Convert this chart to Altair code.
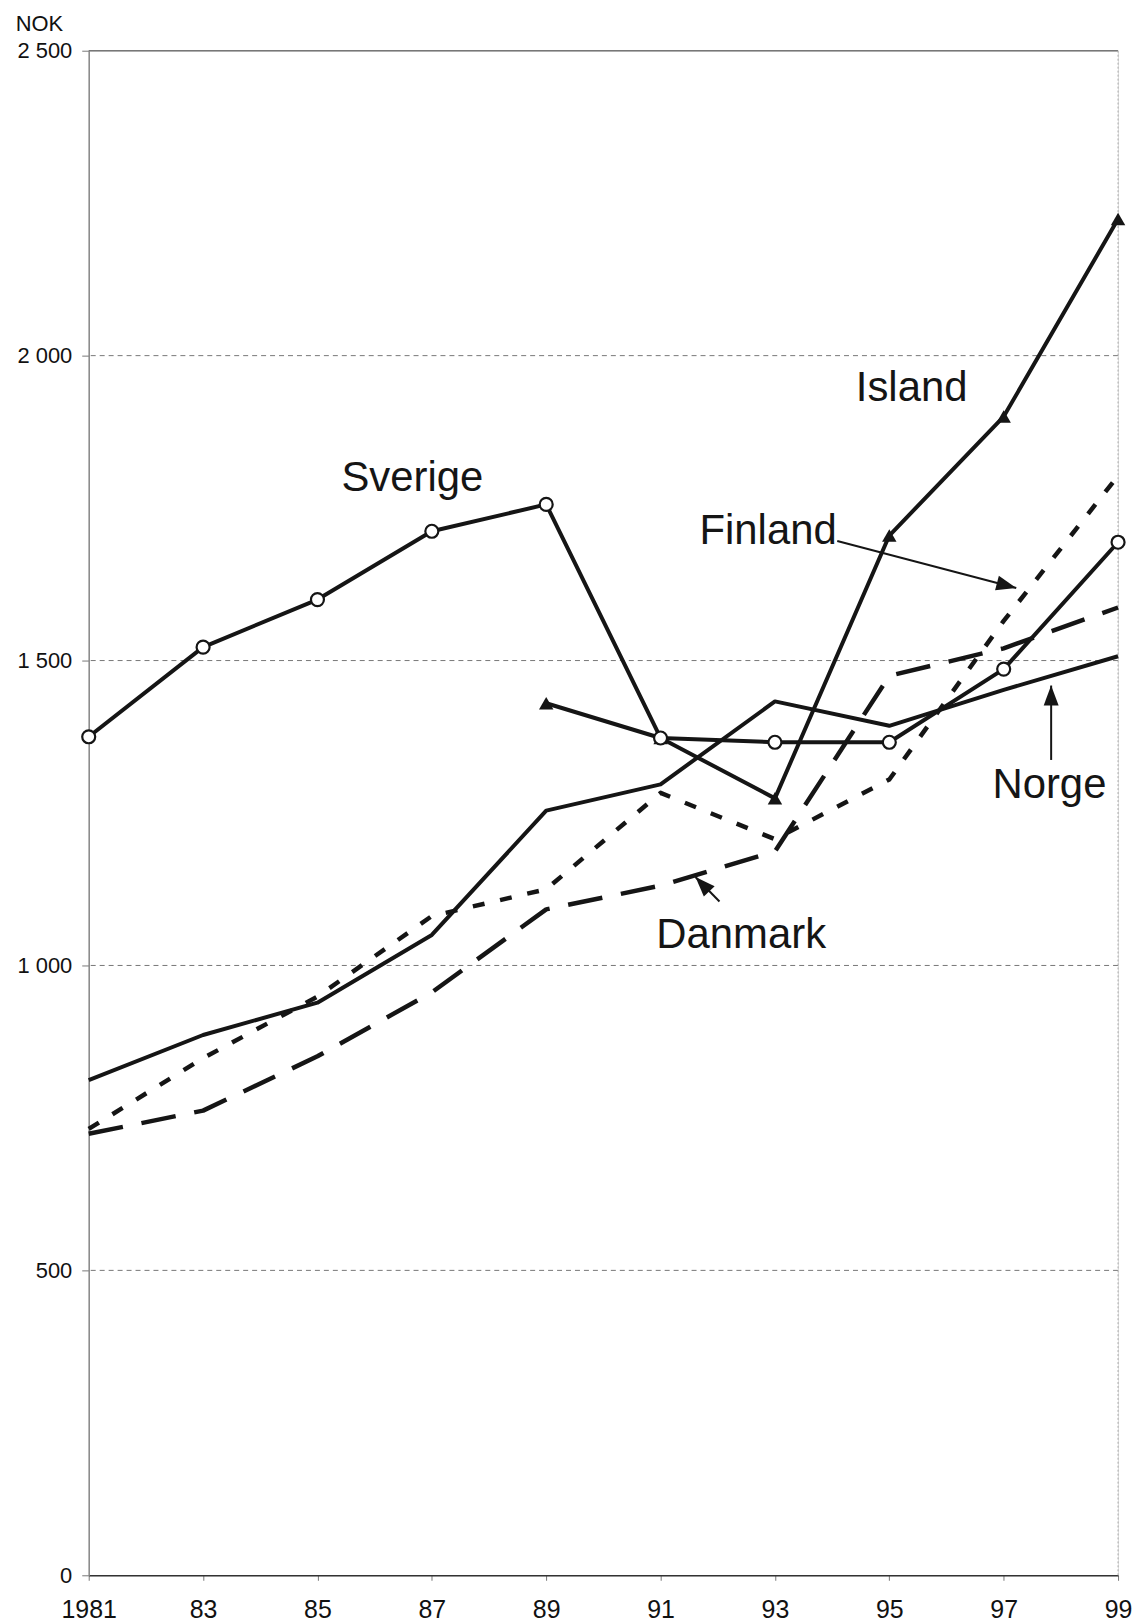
import altair as alt
import pandas as pd

# ---- data ----
years = [1981, 1983, 1985, 1987, 1989, 1991, 1993, 1995, 1997, 1999]
year_labels = ["1981", "83", "85", "87", "89", "91", "93", "95", "97", "99"]

sverige = [1375, 1522, 1600, 1712, 1756, 1373, 1366, 1366, 1486, 1694]
island = [None, None, None, None, 1430, 1373, 1274, 1705, 1900, 2224]
norge = [812, 886, 939, 1050, 1254, 1297, 1433, 1393, 1452, 1507]
finland = [732, 848, 949, 1081, 1125, 1283, 1207, 1305, 1565, 1803]
danmark = [724, 762, 851, 956, 1092, 1131, 1187, 1475, 1520, 1587]

y_ticks = [0, 500, 1000, 1500, 2000, 2500]
grid_values = [500, 1000, 1500, 2000]

# annotations (data coordinates)
label_text = ["Sverige", "Island", "Finland", "Norge", "Danmark"]
label_x = [1986.66, 1995.39, 1992.88, 1997.80, 1992.41]
label_y = [1778, 1925, 1691, 1275, 1029]

arrow_x = [1994.09, 1997.83, 1992.03]
arrow_y = [1696, 1337, 1105]
arrow_x2 = [1997.22, 1997.83, 1991.61]
arrow_y2 = [1619, 1459, 1145]
arrow_angle = [104.6, 0, 316.2]

FONT = "Liberation Sans"
INK = "#151515"

xscale = alt.Scale(domain=[1981, 1999], nice=False, zero=False)
yscale = alt.Scale(domain=[0, 2500], nice=False)

label_expr_x = "[" + ",".join(f"'{l}'" for l in year_labels) + "][(datum.value - 1981) / 2]"

x_axis = alt.Axis(
    values=years, labelExpr=label_expr_x, title=None, grid=False,
    labelFlush=False, labelOverlap=False,
    domainColor="#333", domainWidth=1.5, tickColor="#777", tickSize=5, tickWidth=1,
    labelFont=FONT, labelFontSize=25, labelColor="#111", labelPadding=17,
)
y_axis = alt.Axis(
    values=y_ticks, labelExpr="replace(format(datum.value, ','), ',', ' ')",
    labelFlush=False, labelOverlap=False,
    title="NOK", titleAngle=0, titleFont=FONT, titleFontSize=22, titleFontWeight="normal",
    titleColor="#111", titleX=-50, titleY=-27, titleAlign="center", titleBaseline="middle",
    grid=False, domainColor="#888", domainWidth=1.5, tickColor="#777", tickSize=7,
    labelFont=FONT, labelFontSize=22, labelColor="#111", labelPadding=10,
)

X = lambda f: alt.X(f, type="quantitative", scale=xscale, axis=x_axis)
Y = lambda f: alt.Y(f, type="quantitative", scale=yscale, axis=y_axis)

def series_df(vals):
    return pd.DataFrame({"year": years, "value": vals}).dropna()

grid_df = pd.DataFrame({"v": grid_values})
grid = alt.Chart(grid_df).mark_rule(color="#777", strokeWidth=1, strokeDash=[5, 4]).encode(y=Y("v"))

top = alt.Chart(pd.DataFrame({"v": [y_ticks[-1]]})).mark_rule(color="#777", strokeWidth=1.5).encode(y=Y("v"))
right = alt.Chart(pd.DataFrame({"x": [years[-1]]})).mark_rule(
    color="#aaa", strokeWidth=1, strokeDash=[2, 2]
).encode(x=X("x"))

def line(vals, dash=None, width=4):
    kw = dict(color=INK, strokeWidth=width, strokeJoin="round")
    if dash:
        kw["strokeDash"] = dash
        kw["strokeCap"] = "butt"
    return alt.Chart(series_df(vals)).mark_line(**kw).encode(x=X("year"), y=Y("value"))

l_norge = line(norge)
l_finland = line(finland, dash=[12, 16], width=4.5)
l_danmark = line(danmark, dash=[35, 19], width=4.5)
l_sverige = line(sverige)
l_island = line(island)

p_island = alt.Chart(series_df(island)).mark_point(
    shape="triangle-up", filled=True, color=INK, size=210, opacity=1
).encode(x=X("year"), y=Y("value"))
p_sverige = alt.Chart(series_df(sverige)).mark_point(
    shape="circle", filled=True, fill="white", stroke=INK, strokeWidth=2.2, size=170, opacity=1
).encode(x=X("year"), y=Y("value"))

labels_df = pd.DataFrame({"t": label_text, "x": label_x, "y": label_y})
labels = alt.Chart(labels_df).mark_text(
    font=FONT, fontSize=42, color=INK, align="center", baseline="alphabetic"
).encode(x=X("x"), y=Y("y"), text="t:N")

arrows_df = pd.DataFrame({"x": arrow_x, "y": arrow_y, "x2": arrow_x2, "y2": arrow_y2, "a": arrow_angle})
arrow_lines = alt.Chart(arrows_df).mark_rule(color=INK, strokeWidth=2).encode(
    x=X("x"), y=Y("y"), x2="x2", y2="y2"
)
arrow_heads = alt.Chart(arrows_df).mark_point(
    shape="M0,0 L0.75,2 L-0.75,2 Z", filled=True, color=INK, size=400, opacity=1, strokeWidth=0
).encode(x=X("x2"), y=Y("y2"), angle=alt.Angle("a:Q", scale=None))

chart = alt.layer(
    grid, top, right,
    l_norge, l_finland, l_danmark, l_sverige, l_island,
    p_island, p_sverige,
    arrow_lines, arrow_heads, labels,
).properties(
    width=1033, height=1530,
    autosize=alt.AutoSizeParams(type="none"),
    padding={"left": 81, "top": 40, "right": 15, "bottom": 44},
).configure_view(stroke=None).configure(background="white")

chart.save("out.html", embed_options={"renderer": "svg", "actions": False})
